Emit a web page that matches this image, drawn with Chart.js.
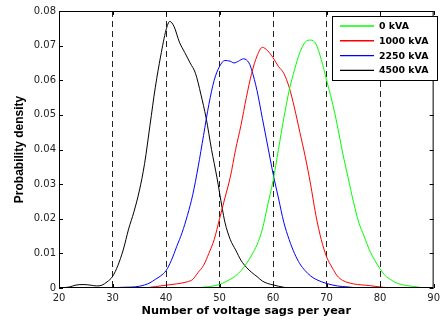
<!DOCTYPE html>
<html>
<head>
<meta charset="utf-8">
<script src="https://cdn.jsdelivr.net/npm/chart.js@4"></script>
<style>
  body { margin: 0; background: #fff; }
</style>
</head>
<body>
<canvas id="pdf-chart" width="444" height="320"></canvas>
<script>
/* data */

const seriesLabels = ['0 kVA', '1000 kVA', '2250 kVA', '4500 kVA'];
const seriesColors = ['#00ff00', '#ff0000', '#0000ff', '#000000'];

const kva0X = [45, 48, 50, 51, 52, 53, 54, 55, 56, 57, 58, 59, 60, 61, 62, 63, 64, 65, 66, 67, 68, 69, 70, 71, 72, 73, 74, 75, 76, 77, 78, 79, 80, 81, 82, 83, 85, 87, 88];
const kva0Y = [0, 0.0004, 0.001, 0.0017, 0.0025, 0.0035, 0.005, 0.007, 0.0095, 0.0125, 0.017, 0.024, 0.031, 0.04, 0.049, 0.057, 0.063, 0.068, 0.071, 0.0716, 0.0705, 0.066, 0.06, 0.054, 0.047, 0.039, 0.032, 0.025, 0.019, 0.015, 0.011, 0.008, 0.0055, 0.0035, 0.0024, 0.0015, 0.0007, 0.0003, 0];

const kva1000X = [36, 38, 40, 42, 44, 45, 46, 47, 48, 49, 50, 51, 52, 53, 54, 55, 56, 57, 58, 59, 60, 61, 62, 63, 64, 65, 66, 67, 68, 69, 70, 71, 72, 73, 75, 78, 80, 82];
const kva1000Y = [0, 0.0004, 0.0008, 0.0012, 0.0018, 0.0025, 0.0045, 0.0065, 0.01, 0.014, 0.02, 0.026, 0.032, 0.04, 0.047, 0.055, 0.062, 0.067, 0.0695, 0.0685, 0.0665, 0.064, 0.062, 0.058, 0.052, 0.045, 0.038, 0.03, 0.021, 0.014, 0.009, 0.006, 0.0035, 0.0022, 0.0012, 0.0007, 0.0003, 0];

const kva2250X = [28, 32, 35, 37, 38, 39, 40, 41, 42, 43, 44, 45, 46, 47, 48, 49, 50, 51, 52, 52.7, 53.5, 54.5, 55.5, 56, 57, 58, 59, 60, 61, 62, 63, 64, 65, 66, 67, 68, 70, 72, 74, 76];
const kva2250Y = [0, 0.0002, 0.0005, 0.0015, 0.0025, 0.0035, 0.005, 0.008, 0.012, 0.016, 0.021, 0.027, 0.035, 0.044, 0.053, 0.06, 0.064, 0.0657, 0.0655, 0.065, 0.0655, 0.0662, 0.065, 0.063, 0.057, 0.049, 0.041, 0.033, 0.026, 0.019, 0.014, 0.01, 0.007, 0.005, 0.0035, 0.0025, 0.0013, 0.0006, 0.0003, 0];

const kva4500X = [20, 22, 23, 24.5, 26, 27, 28, 29, 30, 31, 32, 33, 34, 35, 36, 37, 38, 39, 40, 40.7, 41.5, 42.5, 43.5, 44.5, 45.5, 46.5, 47.5, 48.5, 49.5, 50.5, 51, 52, 53, 54, 55, 56, 57, 58, 59, 60, 62, 64];
const kva4500Y = [0, 0.0003, 0.0008, 0.001, 0.0008, 0.0006, 0.0008, 0.0018, 0.0033, 0.0065, 0.011, 0.017, 0.022, 0.028, 0.036, 0.047, 0.058, 0.067, 0.0745, 0.077, 0.0755, 0.071, 0.068, 0.065, 0.062, 0.056, 0.049, 0.04, 0.032, 0.023, 0.019, 0.014, 0.011, 0.008, 0.006, 0.0045, 0.0033, 0.002, 0.0013, 0.0009, 0.0002, 0];

const xTicks = [20, 30, 40, 50, 60, 70, 80, 90];
const dashedAt = [30, 40, 50, 60, 70, 80];

const allX = [kva0X, kva1000X, kva2250X, kva4500X];
const allY = [kva0Y, kva1000Y, kva2250Y, kva4500Y];

function toPoints(xs, ys) {
    return xs.map((x, i) => ({ x: x, y: ys[i] }));
}

const WIDE = '"DejaVu Sans", sans-serif';
const ARIAL = 'Arial, "Liberation Sans", sans-serif';


/* box, inward ticks and legend, matlab style */

const framePlugin = {
    id: 'frame',
    afterDatasetsDraw(chart) {
        const ctx = chart.ctx;
        const a = chart.chartArea;
        const xs = chart.scales.x;
        const ys = chart.scales.y;

        ctx.save();
        ctx.strokeStyle = '#000';
        ctx.lineWidth = 1;
        ctx.setLineDash([]);
        ctx.strokeRect(a.left + 0.5, a.top + 0.5, a.right - a.left - 1, a.bottom - a.top - 1);

        ctx.beginPath();
        xs.ticks.forEach(t => {
            const px = Math.round(xs.getPixelForValue(t.value)) + 0.5;
            ctx.moveTo(px, a.bottom);
            ctx.lineTo(px, a.bottom - 4);
            ctx.moveTo(px, a.top);
            ctx.lineTo(px, a.top + 4);
        });
        ys.ticks.forEach(t => {
            const py = Math.round(ys.getPixelForValue(t.value)) + 0.5;
            ctx.moveTo(a.left, py);
            ctx.lineTo(a.left + 4, py);
            ctx.moveTo(a.right, py);
            ctx.lineTo(a.right - 4, py);
        });
        ctx.stroke();

        // legend
        const bx = 332.5, by = 16.5, bw = 105, bh = 64;
        ctx.fillStyle = '#fff';
        ctx.fillRect(bx, by, bw, bh);
        ctx.strokeRect(bx, by, bw, bh);

        ctx.font = 'bold 9.4px ' + WIDE;
        ctx.textBaseline = 'middle';
        ctx.textAlign = 'left';
        chart.data.datasets.forEach((ds, i) => {
            const y = 26 + i * 14.8;
            ctx.strokeStyle = ds.borderColor;
            ctx.lineWidth = 1.4;
            ctx.beginPath();
            ctx.moveTo(340, y);
            ctx.lineTo(374, y);
            ctx.stroke();
            ctx.fillStyle = '#000';
            ctx.fillText(ds.label, 379, y + 0.5);
        });
        ctx.restore();
    }
};


const ctx = document.getElementById('pdf-chart');

new Chart(ctx, {
    type: 'line',
    data: {
        datasets: seriesLabels.map((label, i) => ({
            label: label,
            data: toPoints(allX[i], allY[i]),
            borderColor: seriesColors[i],
            borderWidth: 1,
            pointRadius: 0,
            fill: false,
            cubicInterpolationMode: 'monotone'
        }))
    },
    options: {
        responsive: false,
        animation: false,
        layout: { padding: { top: 11, right: 5, left: 0, bottom: 0 } },
        plugins: {
            legend: { display: false },
            tooltip: { enabled: false }
        },
        scales: {
            x: {
                type: 'linear',
                min: 20,
                max: 90,
                afterBuildTicks: scale => { scale.ticks = xTicks.map(v => ({ value: v })); },
                afterFit: scale => { scale.height = 32; },
                ticks: {
                    color: '#222',
                    padding: 4,
                    font: { family: WIDE, size: 10 },
                    maxRotation: 0
                },
                grid: {
                    drawTicks: false,
                    lineWidth: 1,
                    color: c => (c.tick && dashedAt.includes(c.tick.value)) ? '#222' : 'rgba(0,0,0,0)'
                },
                border: { display: false, dash: [6, 4] },
                title: {
                    display: true,
                    text: 'Number of voltage sags per year',
                    color: '#000',
                    font: { family: WIDE, size: 11.3, weight: 'bold' },
                    padding: { top: 0, bottom: 2 }
                }
            },
            y: {
                min: 0,
                max: 0.08,
                afterFit: scale => { scale.width = 59; },
                ticks: {
                    stepSize: 0.01,
                    color: '#222',
                    padding: 3,
                    font: { family: WIDE, size: 10 },
                    callback: v => (Math.abs(v) < 1e-9 ? '0' : v.toFixed(2))
                },
                grid: { display: false, drawTicks: false },
                border: { display: false },
                title: {
                    display: true,
                    text: 'Probability density',
                    color: '#000',
                    font: { family: ARIAL, size: 12, weight: 'bold' },
                    padding: { top: 12, bottom: 0 }
                }
            }
        }
    },
    plugins: [framePlugin]
});
</script>
</body>
</html>
